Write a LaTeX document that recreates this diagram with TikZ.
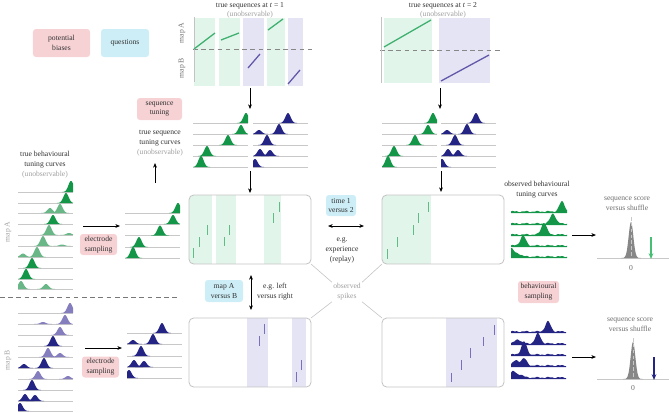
\documentclass[tikz,border=0pt]{standalone}
\usepackage{fontspec}
\setmainfont{Liberation Serif}
\usetikzlibrary{arrows.meta}
\definecolor{dg}{RGB}{20,150,72}
\definecolor{lg}{RGB}{105,182,135}
\definecolor{nv}{RGB}{36,36,132}
\definecolor{lp}{RGB}{132,126,190}
\definecolor{colg}{RGB}{226,245,234}
\definecolor{colp}{RGB}{228,228,244}
\definecolor{seqg}{RGB}{62,176,112}
\definecolor{seqp}{RGB}{98,88,170}
\definecolor{gspikec}{RGB}{95,188,135}
\definecolor{pspikec}{RGB}{120,112,190}
\definecolor{pinkc}{RGB}{247,210,213}
\definecolor{bluec}{RGB}{205,238,247}
\definecolor{txtc}{RGB}{50,50,50}
\definecolor{graytxt}{RGB}{160,160,160}
\definecolor{midtxt}{RGB}{110,110,110}
\definecolor{basec}{RGB}{200,200,200}
\definecolor{boxc}{RGB}{195,195,195}
\definecolor{sepc}{RGB}{120,120,120}
\definecolor{histc}{RGB}{135,135,135}
\definecolor{arrg}{RGB}{70,190,115}
\newcommand{\tcxa}{0}
\newcommand{\tcxb}{0}
\newcommand{\tcrow}[1]{\draw[blline] (\tcxa,#1) -- (\tcxb,#1);}
\newcommand{\tcbump}[4]{%
  \pgfmathsetmacro\tcbs{max(\tcxa,#3-9)}%
  \pgfmathsetmacro\tcbe{min(\tcxb,#3+9)}%
  \fill[#1] (\tcbs,#2) -- plot[domain=\tcbs:\tcbe,samples=27] (\x,{#2-#4*exp(-((\x-#3)*(\x-#3))/13.5)}) -- (\tcbe,#2) -- cycle;}
% noisy: color, y, c, h, c2, h2
\newcommand{\tcnoisy}[6]{%
  \fill[#1] (\tcxa,#2) -- plot[domain=\tcxa:\tcxb,samples=70,smooth] (\x,{#2-1.5-0.45*sin(31*(\x-\tcxa))-0.3*sin(71*(\x-\tcxa)+20)-#4*exp(-((\x-#3)*(\x-#3))/14)-#6*exp(-((\x-#5)*(\x-#5))/18)}) -- (\tcxb,#2) -- cycle;}
\tikzset{
  txt/.style={text=txtc, align=center, inner sep=1pt},
  gtxt/.style={text=graytxt, align=center, inner sep=1pt},
  mtxt/.style={text=midtxt, align=center, inner sep=1pt},
  pinkbox/.style={fill=pinkc, rounded corners=2.5pt, align=center, inner sep=0pt, text=txtc},
  bluebox/.style={fill=bluec, rounded corners=2.5pt, align=center, inner sep=0pt, text=txtc},
  myarr/.style={-{Stealth[length=4pt,width=3.2pt]}, line width=0.6pt, black},
  mydarr/.style={{Stealth[length=4pt,width=3.2pt]}-{Stealth[length=4pt,width=3.2pt]}, line width=0.6pt, black},
  blline/.style={draw=basec, line width=0.5pt},
  bigbox/.style={draw=boxc, line width=0.7pt, rounded corners=4pt, inner sep=0pt, outer sep=0pt, minimum width=3.66cm, minimum height=2.07cm},
  gspike/.style={draw=gspikec, line width=0.8pt},
  pspike/.style={draw=pspikec, line width=0.8pt},
  connl/.style={draw=boxc, line width=0.5pt},
  sepline/.style={draw=sepc, dash pattern=on 4pt off 3pt, line width=0.5pt},
  axisl/.style={draw=boxc, line width=0.8pt},
  hdash/.style={draw=histc, dash pattern=on 3pt off 2pt, line width=0.4pt},
  seqline/.style={line width=1.1pt},
}
\begin{document}
\begin{tikzpicture}[x=0.03cm,y=-0.03cm,font=\fontsize{6.5}{8.5}\selectfont]
\useasboundingbox (0,0) rectangle (669,412);

% ---------- legend boxes
\node[pinkbox, minimum width=1.71cm, minimum height=0.84cm] (pb) at (61.5,43) {potential\\biases};
\node[bluebox, minimum width=1.44cm, minimum height=0.84cm] (qs) at (125,43) {questions};

% ---------- top plot t=1
\node[txt] (t1title) at (250,6) {true sequences at \textit{t} = 1};
\node[gtxt] (t1unobs) at (250,15) {(unobservable)};
\fill[colg] (194,18) rectangle (215,86);
\fill[colg] (219,18) rectangle (240,86);
\fill[colp] (243,18) rectangle (264,86);
\fill[colg] (267,18) rectangle (285,86);
\fill[colp] (288,18) rectangle (303,86);
\draw[sepline, draw=histc] (193,49) -- (312,49);
\draw[axisl] (194,17) -- (194,82);
\node[mtxt, rotate=90] (mapA1) at (182,33) {map A};
\node[mtxt, rotate=90] (mapB1) at (182,68) {map B};
\draw[seqline, seqg] (194,49) -- (215,33);
\draw[seqline, seqg] (221,40) -- (239,33);
\draw[seqline, seqg] (268,30) -- (283,19);
\draw[seqline, seqp] (248,68) -- (260,54);
\draw[seqline, seqp] (288,84) -- (300,70);

% ---------- top plot t=2
\node[txt] (t2title) at (443,6) {true sequences at \textit{t} = 2};
\node[gtxt] (t2unobs) at (443,15) {(unobservable)};
\fill[colg] (384,18) rectangle (432,83);
\fill[colp] (439,18) rectangle (490,83);
\draw[sepline, draw=histc] (380,50) -- (502,50);
\draw[axisl] (381,17) -- (381,83);
\draw[seqline, seqg] (384,47) -- (431,20);
\draw[seqline, seqp] (441,81) -- (489,55);

% ---------- true sequence tuning curves t1
\renewcommand{\tcxa}{193}\renewcommand{\tcxb}{248}
\tcrow{123}\tcbump{dg}{123}{246}{10}
\tcrow{134}\tcbump{dg}{134}{241}{9}
\tcrow{145}\tcbump{dg}{145}{228}{10}
\tcrow{156}\tcbump{dg}{156}{207}{10}
\tcrow{167}\tcbump{dg}{167}{201}{11}
\renewcommand{\tcxa}{253}\renewcommand{\tcxb}{308}
\tcrow{123}\tcbump{nv}{123}{288}{10}
\tcrow{134}\tcbump{nv}{134}{259}{4}\tcbump{nv}{134}{279}{10}
\tcrow{145}\tcbump{nv}{145}{267}{10}
\tcrow{156}\tcbump{nv}{156}{260}{7}\tcbump{nv}{156}{270}{6}
\tcrow{167}\tcbump{nv}{167}{255}{8}
% t2
\renewcommand{\tcxa}{382}\renewcommand{\tcxb}{437}
\tcrow{123}\tcbump{dg}{123}{433}{10}
\tcrow{134}\tcbump{dg}{134}{428}{9}
\tcrow{145}\tcbump{dg}{145}{415}{10}
\tcrow{156}\tcbump{dg}{156}{394}{10}
\tcrow{167}\tcbump{dg}{167}{388}{11}
\renewcommand{\tcxa}{441}\renewcommand{\tcxb}{496}
\tcrow{123}\tcbump{nv}{123}{476}{10}
\tcrow{134}\tcbump{nv}{134}{447}{4}\tcbump{nv}{134}{467}{10}
\tcrow{145}\tcbump{nv}{145}{455}{10}
\tcrow{156}\tcbump{nv}{156}{448}{7}\tcbump{nv}{156}{458}{6}
\tcrow{167}\tcbump{nv}{167}{442}{8}

% ---------- sequence tuning labels
\node[pinkbox, minimum width=1.35cm, minimum height=0.66cm] (sqt) at (159.5,109) {sequence\\tuning};
\node[txt] (tstc) at (160,143) {true sequence\\tuning curves\\\textcolor{graytxt}{(unobservable)}};

% ---------- left: true behavioural tuning curves
\node[txt] (tbtc) at (45,165) {true behavioural\\tuning curves\\\textcolor{graytxt}{(unobservable)}};
\node[gtxt, rotate=90] (mapAL) at (8,232) {map A};
\node[gtxt, rotate=90] (mapBL) at (8,360) {map B};
\renewcommand{\tcxa}{18}\renewcommand{\tcxb}{73}
\tcrow{192}\tcbump{dg}{192}{71}{11}
\tcrow{203}\tcbump{dg}{203}{66}{10}
\tcrow{213}\tcbump{lg}{213}{50}{5}\tcbump{lg}{213}{60}{9}
\tcrow{224}\tcbump{dg}{224}{53}{9}
\tcrow{235}\tcbump{lg}{235}{49}{10}\tcbump{lg}{235}{69}{2}
\tcrow{246}\tcbump{lg}{246}{43}{10}\tcbump{lg}{246}{62}{1.5}
\tcrow{257}\tcbump{lg}{257}{37}{10}\tcbump{lg}{257}{23}{3.5}
\tcrow{268}\tcbump{dg}{268}{32}{10}
\tcrow{279}\tcbump{dg}{279}{26}{10}
\tcrow{289}\tcbump{lg}{289}{21}{8}\tcbump{lg}{289}{46}{5}
\draw[sepline] (0,297) -- (180,297);
\tcrow{313}\tcbump{lp}{313}{70}{10}
\tcrow{324}\tcbump{lp}{324}{65}{9}\tcbump{lp}{324}{43}{2}
\tcrow{335}\tcbump{lp}{335}{60}{8}
\tcrow{346}\tcbump{nv}{346}{53}{10}
\tcrow{357}\tcbump{lp}{357}{48}{9}\tcbump{lp}{357}{60}{4}
\tcrow{368}\tcbump{nv}{368}{44}{10}\tcbump{nv}{368}{24}{4}
\tcrow{379}\tcbump{lp}{379}{38}{8}\tcbump{lp}{379}{68}{3}
\tcrow{390}\tcbump{nv}{390}{32}{10}
\tcrow{401}\tcbump{nv}{401}{25}{7}\tcbump{nv}{401}{35}{6}
\tcrow{411}\tcbump{nv}{411}{20}{8}

% ---------- electrode sampling
\node[pinkbox, minimum width=1.11cm, minimum height=0.63cm] (esA) at (98.5,244.5) {electrode\\sampling};
\node[pinkbox, minimum width=1.11cm, minimum height=0.63cm] (esB) at (100.5,367) {electrode\\sampling};
\renewcommand{\tcxa}{125}\renewcommand{\tcxb}{180}
\tcrow{213}\tcbump{dg}{213}{178}{10}
\tcrow{224}\tcbump{dg}{224}{173}{9}
\tcrow{235.5}\tcbump{dg}{235.5}{160}{10}
\tcrow{247}\tcbump{dg}{247}{139}{10}
\tcrow{258}\tcbump{dg}{258}{133}{11}
\renewcommand{\tcxa}{127}\renewcommand{\tcxb}{182}
\tcrow{333}\tcbump{nv}{333}{162}{10}
\tcrow{344}\tcbump{nv}{344}{133}{4}\tcbump{nv}{344}{153}{10}
\tcrow{356}\tcbump{nv}{356}{141}{10}
\tcrow{367}\tcbump{nv}{367}{134}{7}\tcbump{nv}{367}{144}{6}
\tcrow{378}\tcbump{nv}{378}{129}{8}

% ---------- spike boxes
\begin{scope}
\clip[rounded corners=4pt] (189,195) rectangle (311,264);
\fill[colg] (189,195) rectangle (212,264);
\fill[colg] (216,195) rectangle (236,264);
\fill[colg] (264,195) rectangle (281,264);
\end{scope}
\node[bigbox] (bA1) at (250,229.5) {};
\foreach \sx/\sa/\sb in {193/248/258,199/237/247,207/225/235,224/237/246,229/225/235,273/213/223,279/202/212}
  \draw[gspike] (\sx,\sa) -- (\sx,\sb);

\begin{scope}
\clip[rounded corners=4pt] (382,195) rectangle (504,264);
\fill[colg] (382,195) rectangle (431,264);
\end{scope}
\node[bigbox] (bA2) at (443,229.5) {};
\foreach \sx/\sa/\sb in {387/249/259,397/237/247,413/225/235,418/213/223,428/202/212}
  \draw[gspike] (\sx,\sa) -- (\sx,\sb);

\begin{scope}
\clip[rounded corners=4pt] (189,318) rectangle (311,387);
\fill[colp] (247,318) rectangle (268,387);
\fill[colp] (292,318) rectangle (306,387);
\end{scope}
\node[bigbox] (bB1) at (250,352.5) {};
\foreach \sx/\sa/\sb in {264/324/334,259/336/346,301/360/370,296/372/382}
  \draw[pspike] (\sx,\sa) -- (\sx,\sb);

\begin{scope}
\clip[rounded corners=4pt] (382,318) rectangle (504,387);
\fill[colp] (446,318) rectangle (497,387);
\end{scope}
\node[bigbox] (bB2) at (443,352.5) {};
\foreach \sx/\sa/\sb in {451/373/382,461/360/370,470/348/358,483/337/346,494/325/335}
  \draw[pspike] (\sx,\sa) -- (\sx,\sb);

% ---------- middle labels
\node[bluebox, minimum width=0.9cm, minimum height=0.63cm] (tvs) at (341,205.5) {time 1\\versus 2};
\node[txt] (exp) at (342,250) {e.g.\\experience\\(replay)};
\node[bluebox, minimum width=1.14cm, minimum height=0.66cm] (mvs) at (224,291) {map A\\versus B};
\node[txt] (lr) at (275,292) {e.g. left\\versus right};
\node[gtxt] (os) at (347,292) {observed\\spikes};
\draw[connl] (bA1.south east) -- (os.north west);
\draw[connl] (bA2.south west) -- (os.north east);
\draw[connl] (bB1.north east) -- (os.south west);
\draw[connl] (bB2.north west) -- (os.south east);

% ---------- right side: observed behavioural tuning curves
\node[txt] (obtc) at (537,190) {observed behavioural\\tuning curves};
\renewcommand{\tcxa}{511}\renewcommand{\tcxb}{567}
\tcnoisy{dg}{213}{562}{10}{540}{0}
\tcnoisy{dg}{225}{553}{10}{540}{0}
\tcnoisy{dg}{236}{544}{12}{540}{0}
\tcnoisy{dg}{247}{523}{10}{540}{0}
\tcnoisy{dg}{258}{511}{8}{518}{3}
\node[pinkbox, minimum width=1.23cm, minimum height=0.66cm] (bs) at (538.5,292) {behavioural\\sampling};
\renewcommand{\tcxa}{511}\renewcommand{\tcxb}{566}
\tcnoisy{nv}{333}{548}{10}{540}{0}
\tcnoisy{nv}{345}{538}{10}{518}{4}
\tcnoisy{nv}{356}{524}{13}{540}{0}
\tcnoisy{nv}{367}{524}{7}{516}{5}
\tcnoisy{nv}{379}{513}{6}{520}{3}

% ---------- sequence score
\node[mtxt] (ssA) at (627,204) {sequence score\\versus shuffle};
\draw[blline] (597,258) -- (669,258);
\fill[histc] (621,258) -- plot[domain=621:641,samples=40] (\x,{258-36*exp(-((\x-631)*(\x-631))/11)}) -- (641,258) -- cycle;
\draw[hdash, draw=basec] (631,217) -- (631,258);
\node[mtxt] (zA) at (631,268) {0};
\node[mtxt] (ssB) at (630,325) {sequence score\\versus shuffle};
\draw[blline] (597,379) -- (669,379);
\fill[histc] (623,379) -- plot[domain=623:643,samples=40] (\x,{379-37*exp(-((\x-633)*(\x-633))/11)}) -- (643,379) -- cycle;
\draw[hdash, draw=basec] (633,338) -- (633,379);
\node[mtxt] (zB) at (633,388) {0};

% ---------- coordinates and arrows
\coordinate (a1s) at (250,88);  \coordinate (a1e) at (250,109);
\coordinate (a2s) at (440,88);  \coordinate (a2e) at (440,109);
\coordinate (a3s) at (250,171); \coordinate (a3e) at (250,193);
\coordinate (a4s) at (441,171); \coordinate (a4e) at (441,192);
\coordinate (a5s) at (155,183); \coordinate (a5e) at (155,163);
\coordinate (a6s) at (83,226);  \coordinate (a6e) at (120,226);
\coordinate (a7s) at (85,348);  \coordinate (a7e) at (122,348);
\coordinate (d1s) at (328,226); \coordinate (d1e) at (364,226);
\coordinate (d2s) at (251,275); \coordinate (d2e) at (251,310);
\coordinate (a8s) at (572,235); \coordinate (a8e) at (596,235);
\coordinate (a9s) at (572,357); \coordinate (a9e) at (596,357);
\coordinate (gA1) at (651,237); \coordinate (gA2) at (651,259);
\coordinate (gB1) at (654,357); \coordinate (gB2) at (654,380);
\draw[myarr] (a1s) -- (a1e);
\draw[myarr] (a2s) -- (a2e);
\draw[myarr] (a3s) -- (a3e);
\draw[myarr] (a4s) -- (a4e);
\draw[myarr] (a5s) -- (a5e);
\draw[myarr] (a6s) -- (a6e);
\draw[myarr] (a7s) -- (a7e);
\draw[mydarr] (d1s) -- (d1e);
\draw[mydarr] (d2s) -- (d2e);
\draw[myarr] (a8s) -- (a8e);
\draw[myarr] (a9s) -- (a9e);
\draw[-{Stealth[length=5pt,width=4pt]}, line width=1.1pt, arrg] (gA1) -- (gA2);
\draw[-{Stealth[length=5pt,width=4pt]}, line width=1.1pt, nv] (gB1) -- (gB2);
\end{tikzpicture}
\end{document}
